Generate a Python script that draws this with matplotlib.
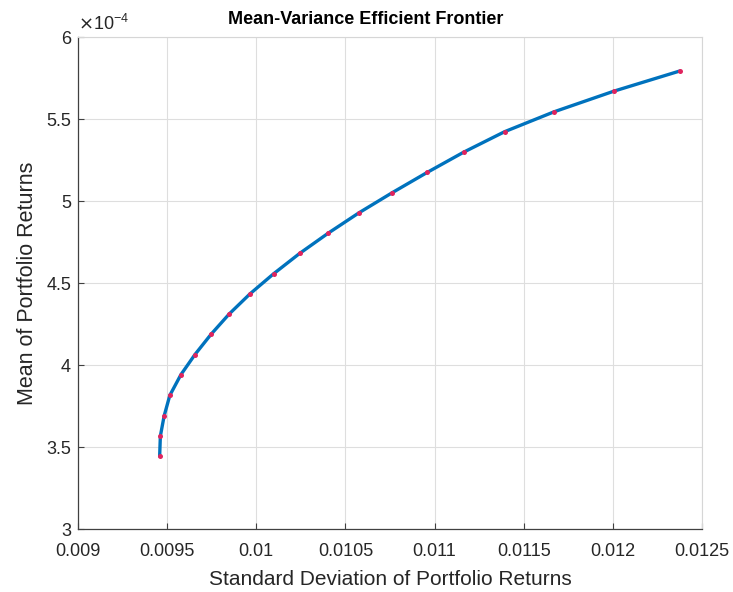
import matplotlib
matplotlib.use('Agg')
import matplotlib.pyplot as plt
from matplotlib.ticker import FuncFormatter

# frontier points
port_risk = [0.009458, 0.009462, 0.009483, 0.009515, 0.009577, 0.009656,
             0.009746, 0.009848, 0.009965, 0.010097, 0.010243, 0.010404,
             0.010575, 0.010762, 0.010959, 0.011163, 0.011393, 0.011670,
             0.012006, 0.012376]
port_return = [3.445e-4, 3.568e-4, 3.690e-4, 3.816e-4, 3.942e-4, 4.065e-4,
               4.188e-4, 4.312e-4, 4.435e-4, 4.557e-4, 4.681e-4, 4.805e-4,
               4.928e-4, 5.051e-4, 5.175e-4, 5.298e-4, 5.423e-4, 5.544e-4,
               5.670e-4, 5.793e-4]
x_ticks = [0.009, 0.0095, 0.01, 0.0105, 0.011, 0.0115, 0.012, 0.0125]
y_ticks = [3e-4, 3.5e-4, 4e-4, 4.5e-4, 5e-4, 5.5e-4, 6e-4]

plt.rcParams['font.family'] = ['Liberation Sans', 'DejaVu Sans']
txt_col = '#262626'

fig = plt.figure(figsize=(7.33, 5.92), dpi=100)
ax = fig.add_axes([0.1064, 0.1059, 0.8513, 0.8316])

ax.plot(port_risk, port_return, color='#0072BD', lw=2.4, solid_capstyle='round', zorder=3)
ax.plot(port_risk, port_return, ls='none', marker='o', ms=3.6, mew=0,
        color='#E0245E', zorder=4)

ax.set_xlim(0.009, 0.0125)
ax.set_ylim(3e-4, 6e-4)
ax.set_xticks(x_ticks)
ax.set_yticks(y_ticks)
ax.xaxis.set_major_formatter(FuncFormatter(lambda v, p: '%g' % round(v, 6)))
ax.yaxis.set_major_formatter(FuncFormatter(lambda v, p: '%g' % round(v / 1e-4, 3)))

ax.grid(True, color='#dedede', lw=0.8, zorder=0)
ax.set_axisbelow(True)
for s in ['left', 'bottom']:
    ax.spines[s].set_color('#404040')
    ax.spines[s].set_linewidth(0.9)
for s in ['top', 'right']:
    ax.spines[s].set_color('#d6d6d6')
    ax.spines[s].set_linewidth(0.8)
ax.tick_params(direction='in', length=4, width=0.8, color='#404040',
               labelsize=13, labelcolor=txt_col)
ax.tick_params(axis='x', pad=10)
ax.tick_params(axis='y', pad=5)

ax.text(0.0, 1.006, r'$\times\mathregular{10^{-4}}$', transform=ax.transAxes,
        ha='left', va='bottom', fontsize=13, color=txt_col)

ax.set_title('Mean-Variance Efficient Frontier', fontsize=13, fontweight='bold',
             color='#000000', pad=9, x=0.4615)
ax.set_xlabel('Standard Deviation of Portfolio Returns', fontsize=15, color=txt_col, labelpad=7)
ax.set_ylabel('Mean of Portfolio Returns', fontsize=15.5, color=txt_col, labelpad=6)

fig.savefig('out.png', dpi=100, facecolor='white')
